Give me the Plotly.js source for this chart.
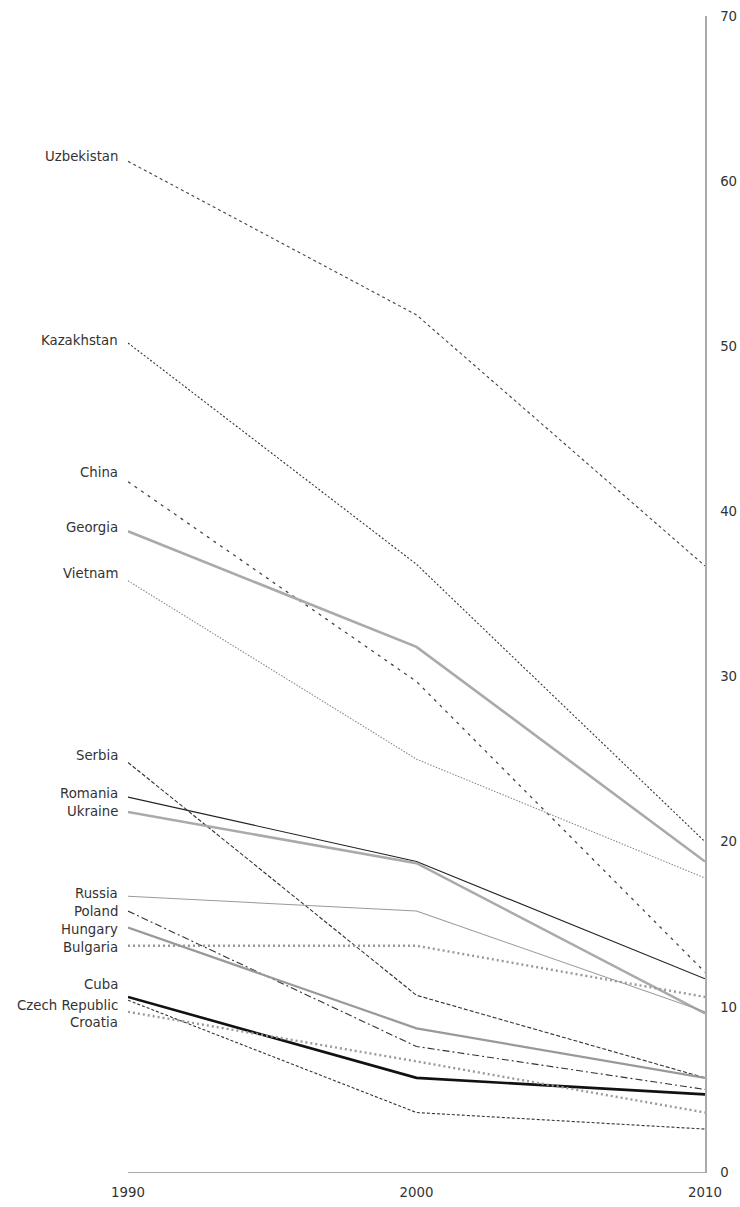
<!DOCTYPE html>
<html>
<head>
<meta charset="utf-8">
<script src="https://cdn.plot.ly/plotly-3.0.1.min.js"></script>
<style>html,body{margin:0;padding:0;background:#fff;}#chart{width:740px;height:1207px;}</style>
</head>
<body>
<div id="chart"></div>
<script>
// Data
const years = [1990, 2000, 2010];
const countries = ["Uzbekistan","Kazakhstan","China","Georgia","Vietnam","Serbia","Romania","Ukraine","Russia","Poland","Hungary","Bulgaria","Cuba","Czech Republic","Croatia"];
const uzbekistan = [61.2, 51.9, 36.7];
const kazakhstan = [50.2, 36.8, 20.0];
const china = [41.8, 29.7, 12.1];
const georgia = [38.8, 31.8, 18.8];
const vietnam = [35.8, 25.0, 17.8];
const serbia = [24.8, 10.7, 5.7];
const romania = [22.7, 18.8, 11.7];
const ukraine = [21.8, 18.7, 9.6];
const russia = [16.7, 15.8, 9.7];
const poland = [15.8, 7.6, 5.0];
const hungary = [14.8, 8.7, 5.7];
const bulgaria = [13.7, 13.7, 10.6];
const cuba = [10.6, 5.7, 4.7];
const czechRepublic = [10.4, 3.6, 2.6];
const croatia = [9.7, 6.7, 3.6];
const yTicks = [0, 10, 20, 30, 40, 50, 60, 70];

const seriesValues = [uzbekistan, kazakhstan, china, georgia, vietnam, serbia, romania, ukraine, russia, poland, hungary, bulgaria, cuba, czechRepublic, croatia];

// Styles (separate from data)
const lineStyles = [
  {color:"#444", width:1.1, dash:"3px,3px"},
  {color:"#333", width:1.1, dash:"2px,2px"},
  {color:"#444", width:1.3, dash:"3px,5px"},
  {color:"#aaa", width:2.6, dash:"solid"},
  {color:"#888", width:1.1, dash:"1.5px,1.5px"},
  {color:"#333", width:1.1, dash:"4px,2px"},
  {color:"#222", width:1.2, dash:"solid"},
  {color:"#aaa", width:2.6, dash:"solid"},
  {color:"#999", width:1.1, dash:"solid"},
  {color:"#333", width:1.1, dash:"7px,3px,2px,3px"},
  {color:"#999", width:2.2, dash:"solid"},
  {color:"#999", width:2.4, dash:"2px,3px"},
  {color:"#111", width:2.6, dash:"solid"},
  {color:"#333", width:1.1, dash:"3px,2px"},
  {color:"#999", width:2.4, dash:"2px,3px"}
];
const labelShift = [5, 2, 9, 4, 7, 7, 4, 0, 3, 0, -2, -2, 12, -5, -11];
const labelFont = {family: "DejaVu Sans, sans-serif", size: 13.3, color: "#333"};
const tickFont = {family: "DejaVu Sans, sans-serif", size: 13.3, color: "#333"};

const traces = countries.map((name, i) => ({
  x: years,
  y: seriesValues[i],
  type: "scatter",
  mode: "lines",
  name: name,
  line: lineStyles[i],
  hoverinfo: "skip"
}));

const annotations = countries.map((name, i) => ({
  x: years[0],
  y: seriesValues[i][0],
  xref: "x", yref: "y",
  text: name,
  showarrow: false,
  xanchor: "right",
  yanchor: "middle",
  xshift: -9,
  yshift: labelShift[i],
  borderpad: 0,
  font: labelFont
}));

const layout = {
  width: 740, height: 1207,
  margin: {l: 128, r: 35, t: 16, b: 35},
  paper_bgcolor: "#fff", plot_bgcolor: "#fff",
  showlegend: false,
  xaxis: {
    range: [1990, 2010],
    tickvals: years,
    ticktext: years.map(String),
    showgrid: false, zeroline: false,
    showline: true, linecolor: "#aaa", linewidth: 1.2,
    ticks: "",
    ticklabelstandoff: 8,
    tickfont: tickFont
  },
  yaxis: {
    range: [0, 70],
    side: "right",
    tickvals: yTicks,
    ticktext: yTicks.map(String),
    showgrid: false, zeroline: false,
    showline: true, linecolor: "#aaa", linewidth: 1.5,
    ticks: "",
    ticklabelstandoff: 11,
    tickfont: tickFont
  },
  annotations: annotations
};

Plotly.newPlot("chart", traces, layout, {displayModeBar: false, staticPlot: true});
</script>
</body>
</html>
